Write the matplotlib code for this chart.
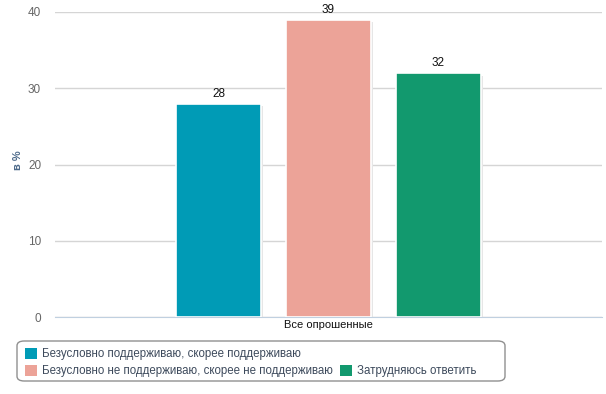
import matplotlib.pyplot as plt
from matplotlib.patches import Patch, FancyBboxPatch

category = "Все опрошенные"
series = [
    "Безусловно поддерживаю, скорее поддерживаю",
    "Безусловно не поддерживаю, скорее не поддерживаю",
    "Затрудняюсь ответить",
]
values = [28, 39, 32]
colors = ["#009bb6", "#eca398", "#12996e"]

plt.rcParams["font.family"] = ["Liberation Sans", "DejaVu Sans"]

W, H = 606, 394
fig = plt.figure(figsize=(W / 100, H / 100), dpi=100)
ax = fig.add_axes([55 / W, 77 / H, 547 / W, 305 / H])

offsets = [-0.201, 0.0, 0.201]
width = 0.154
for off, v, c in zip(offsets, values, colors):
    # soft shadow
    ax.bar(off + 0.004, v, width, bottom=-0.35, color="#e6e6e6", zorder=2)
    ax.bar(off, v, width, color=c, edgecolor="white", linewidth=1.2, zorder=3)
    ax.text(off, v + 0.5, str(v), ha="center", va="bottom", fontsize=8.5, color="#111111", zorder=4)

ax.set_xlim(-0.5, 0.5)
ax.set_ylim(0, 40)
ax.set_yticks([0, 10, 20, 30, 40])
ax.yaxis.grid(True, color="#d5d5d5", linewidth=1)
ax.set_axisbelow(True)
for s in ["top", "right", "left"]:
    ax.spines[s].set_visible(False)
ax.spines["bottom"].set_color("#c0d0e0")
ax.tick_params(axis="y", length=0, labelsize=8.5, labelcolor="#666666", pad=10)
ax.set_xticks([0])
ax.set_xticklabels([category])
ax.tick_params(axis="x", length=0, labelsize=8, labelcolor="#111111", pad=2)
ax.set_ylabel("в %", fontsize=8, color="#4d6a8a", fontweight="bold")
ax.yaxis.set_label_coords(-0.058, 0.515)

# legend frame drawn separately so it can be wider than its content
box = FancyBboxPatch((17 / W, 1 - 381 / H), 488 / W, 40 / H,
                     boxstyle="round,pad=0,rounding_size=0.012",
                     transform=fig.transFigure, facecolor="white",
                     edgecolor="#909090", linewidth=1)
fig.patches.append(box)

handles = [Patch(facecolor=colors[0]), Patch(facecolor=colors[1]),
           Patch(facecolor="none", edgecolor="none"), Patch(facecolor=colors[2])]
labels = [series[0], series[1], "", series[2]]
leg = fig.legend(handles, labels, ncol=2, loc="upper left",
                 bbox_to_anchor=(25 / W, 1 - 348 / H),
                 fontsize=8.3, frameon=False, handlelength=1.05, handleheight=1.05,
                 handletextpad=0.45, columnspacing=0.6, labelspacing=0.4,
                 borderpad=0, borderaxespad=0)
for t in leg.get_texts():
    t.set_color("#3d4a5c")

fig.savefig("out.png", dpi=100)
